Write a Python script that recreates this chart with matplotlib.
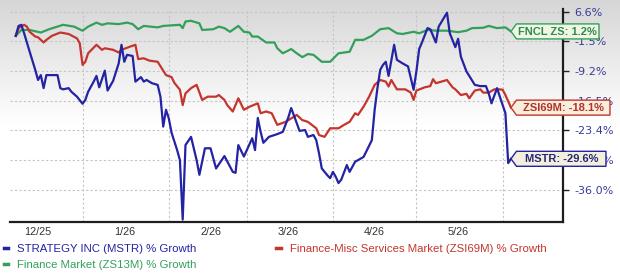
import numpy as np
import matplotlib.pyplot as plt
import matplotlib.dates as mdates
import matplotlib.transforms as mtransforms
from matplotlib.patches import Polygon

# days counted from 2025-12-01, values in % growth
start = np.datetime64('2025-12-01')

mstr_day = [7, 8, 9, 10, 12, 14, 15, 16, 17, 18, 20, 22, 23, 24, 26, 27, 29, 31, 32, 33,
            35, 36, 37, 39, 40, 42, 44, 45, 46, 47, 49, 50, 52, 53, 54, 56, 58, 59, 60, 61,
            62, 63, 65, 66, 67, 68, 70, 72, 73, 75, 77, 79, 82, 85, 86, 87, 89, 92, 93, 94,
            95, 96, 98, 101, 103, 105, 106, 108, 109, 111, 112, 114, 115, 116, 117, 119, 120, 121, 122, 123,
            124, 126, 127, 129, 130, 132, 133, 135, 136, 137, 138, 139, 140, 141, 143, 144, 146, 148, 150, 151,
            152, 153, 155, 156, 158, 159, 162, 163, 165, 166, 167, 169, 170, 172, 174, 176, 177, 178, 180, 181,
            183, 184, 185]
mstr_pct = [0.0, 2.7, 3.0, 0.7, -4.2, -8.9, -11.4, -10.2, -13.4, -10.2, -10.2, -10.2, -13.4, -13.7, -13.4, -14.3, -15.5, -17.2, -16.3, -14.3,
            -11.8, -10.4, -13.2, -9.1, -14.0, -11.6, -7.2, -2.4, -6.8, -5.0, -5.3, -11.8, -10.7, -11.8, -11.4, -12.2, -12.6, -15.5, -22.5, -18.6,
            -20.6, -23.9, -27.7, -29.9, -41.7, -26.6, -24.8, -29.9, -32.9, -27.3, -27.3, -31.6, -29.0, -32.3, -32.5, -26.6, -29.1, -25.1, -27.7, -20.5,
            -23.7, -26.1, -24.8, -24.2, -23.7, -20.3, -18.2, -21.7, -23.5, -23.3, -24.8, -24.4, -25.5, -28.4, -31.6, -33.0, -33.6, -32.3, -33.3, -34.6,
            -33.9, -30.9, -32.3, -30.2, -29.9, -29.2, -28.0, -25.5, -18.6, -13.4, -8.9, -7.6, -6.8, -10.4, -2.4, -6.3, -7.2, -8.0, -13.8, -9.3,
            -3.5, -1.8, 2.1, 1.8, -1.8, 2.5, 6.3, 0.7, -3.0, -0.8, -5.5, -9.3, -10.4, -12.6, -12.9, -12.9, -14.7, -17.1, -13.4, -15.5,
            -19.4, -30.5, -29.6]

zsi_day = [7, 8, 10, 11, 12, 14, 15, 17, 18, 20, 23, 26, 29, 30, 31, 32, 33, 36, 38, 39,
           42, 44, 45, 48, 50, 51, 53, 55, 58, 61, 63, 64, 66, 67, 68, 70, 72, 74, 76, 79,
           80, 82, 83, 85, 87, 89, 91, 94, 95, 97, 99, 101, 104, 108, 110, 112, 115, 116, 118, 120,
           123, 125, 127, 129, 130, 132, 134, 136, 138, 140, 141, 142, 144, 147, 149, 150, 151, 154, 156, 157,
           158, 160, 162, 164, 165, 167, 169, 170, 172, 174, 175, 177, 179, 181, 182, 183, 185]
zsi_pct = [0.0, 2.1, 3.0, 2.5, 1.1, -0.2, -0.4, -1.8, -1.1, 0.0, 0.9, 0.5, -0.7, -2.0, -7.6, -6.8, -4.6, -2.4, -3.7, -3.3,
           -3.7, -4.4, -3.7, -2.9, -2.4, -6.1, -5.9, -6.5, -6.8, -10.2, -10.7, -12.1, -13.8, -17.5, -14.7, -13.4, -12.6, -16.3, -15.5, -15.5,
           -15.1, -16.3, -17.5, -19.0, -15.9, -18.6, -17.9, -17.1, -19.4, -19.0, -19.4, -22.1, -21.4, -19.8, -21.0, -21.4, -22.9, -24.4, -24.8, -22.9,
           -22.9, -22.1, -21.4, -19.4, -19.8, -17.9, -15.5, -12.6, -11.4, -11.8, -13.0, -11.4, -13.7, -13.7, -14.5, -16.3, -14.0, -13.2, -12.9, -11.2,
           -12.2, -11.8, -11.4, -13.2, -13.7, -15.1, -14.8, -15.9, -14.0, -13.7, -14.5, -14.5, -13.7, -13.7, -13.8, -15.1, -18.1]

fncl_day = [7, 9, 12, 16, 19, 24, 28, 31, 33, 36, 38, 40, 44, 47, 49, 51, 53, 58, 60, 66,
            67, 68, 70, 73, 74, 78, 80, 82, 84, 87, 89, 91, 92, 94, 97, 100, 101, 103, 106, 108,
            110, 112, 114, 117, 120, 123, 127, 129, 132, 135, 138, 141, 144, 146, 150, 152, 155, 158, 162, 166,
            169, 171, 175, 177, 180, 183, 185]
fncl_pct = [0.0, 1.6, 1.6, 0.9, 1.8, 3.0, 2.5, 1.4, 2.5, 3.6, 3.0, 3.4, 3.2, 3.6, 3.2, 1.8, 2.7, 2.3, 2.7, 3.0,
            2.1, 3.9, 4.1, 3.4, 1.6, 1.8, 2.5, 2.1, 1.1, 2.7, 1.1, 0.9, -0.2, -0.2, -1.8, -1.8, -3.3, -4.6, -3.5, -4.6,
            -5.6, -4.8, -5.0, -6.8, -6.8, -4.6, -4.2, -1.1, -1.1, 0.0, 1.8, 2.1, 0.7, 0.5, 1.1, 0.7, 1.6, 1.4, 1.4, 1.0,
            1.4, 2.1, 2.2, 2.7, 2.1, 2.3, 1.2]

ytick_vals = [6.6, -1.5, -9.2, -16.5, -23.4, -29.9, -36.0]
month_labels = ['12/25', '1/26', '2/26', '3/26', '4/26', '5/26']

# chart's y axis is not linear: tick values are evenly spaced
scale_vals = [-47.3, -41.7, -36.0, -29.9, -23.4, -16.5, -9.2, -1.5, 6.6, 15.1]
scale_pos = np.arange(-1, 9, dtype=float)

def fwd(v):
    return np.interp(v, scale_vals, scale_pos)

def inv(p):
    return np.interp(p, scale_pos, scale_vals)

def to_dates(days):
    return start + np.array(days).astype('timedelta64[D]')

blue = '#2323a3'
red = '#c3352e'
green = '#33a05a'

fig = plt.figure(figsize=(6.2, 2.75), dpi=100)

# grey-to-white background
bg = fig.add_axes([0, 0, 1, 1], zorder=-10)
t = np.clip(np.linspace(0, 1, 275) / 0.45, 0, 1)
col = 0.84 + 0.16 * t
bg.imshow(np.dstack([col, col, col]).reshape(275, 1, 3), aspect='auto',
          extent=[0, 1, 0, 1])
bg.axis('off')

ax = fig.add_axes([0.0161, 0.1938, 0.892, 0.7735])
ax.set_facecolor('none')
ax.set_yscale('function', functions=(fwd, inv))

ax.plot(to_dates(fncl_day), fncl_pct, color=green, lw=1.6, label='Finance Market (ZS13M) % Growth', zorder=3)
ax.plot(to_dates(zsi_day), zsi_pct, color=red, lw=1.6, label='Finance-Misc Services Market (ZSI69M) % Growth', zorder=3)
ax.plot(to_dates(mstr_day), mstr_pct, color=blue, lw=1.6, label='STRATEGY INC (MSTR) % Growth', zorder=4)

ax.set_xlim(start + np.timedelta64(4, 'D') + np.timedelta64(22, 'h'), start + np.timedelta64(203, 'D') + np.timedelta64(17, 'h'))
ax.set_ylim(-42.1, 7.35)

ax.yaxis.tick_right()
ax.set_yticks(ytick_vals)
ax.set_yticklabels(['%.1f%%' % v for v in ytick_vals])
ax.yaxis.set_minor_locator(plt.NullLocator())
ax.tick_params(axis='y', which='major', length=4, width=1, color='#222222', pad=4,
               labelsize=8, labelcolor='#3b3b96')

month_starts = [np.datetime64('2026-%02d-01' % m) for m in range(1, 7)]
mid_months = [np.datetime64('2025-12-16')] + [np.datetime64('2026-%02d-16' % m) for m in range(1, 6)]
ax.set_xticks(month_starts)
ax.set_xticklabels([])
ax.set_xticks(mid_months, minor=True)
ax.set_xticklabels(month_labels, minor=True)
ax.tick_params(axis='x', which='both', length=0, pad=4)
ax.tick_params(axis='x', which='minor', labelsize=7.8, labelcolor='#333333')
for lab in ax.get_xticklabels(minor=True):
    lab.set_family('Liberation Sans')

ax.grid(True, which='major', color='#c4c4c4', lw=0.8, ls=(0, (2, 2)))

for s in ['left', 'top']:
    ax.spines[s].set_visible(False)
for s in ['bottom', 'right']:
    ax.spines[s].set_linewidth(1.6)
    ax.spines[s].set_color('#1e1e1e')

# legend below the plot
h, l = ax.get_legend_handles_labels()
order = [2, 0, 1]
leg = fig.legend([h[i] for i in order], [l[i] for i in order], ncol=2,
                 loc='upper left', bbox_to_anchor=(0.006, 0.112), frameon=False,
                 handlelength=0.4, handletextpad=0.8, labelspacing=0.52,
                 columnspacing=7.0, borderaxespad=0, borderpad=0,
                 prop={'family': 'Liberation Sans', 'size': 8.2}, labelcolor='linecolor')
for ln in leg.get_lines():
    ln.set_linewidth(2.5)

# value tags at the end of each line
def tag(day, val, text, w, edge, face, tcol):
    x = mdates.date2num(start + np.timedelta64(day, 'D'))
    tr = fig.dpi_scale_trans + mtransforms.ScaledTranslation(x, val, ax.transData)
    hh = 0.075
    pts = [(0, 0), (0.055, hh), (w, hh), (w, -hh), (0.055, -hh)]
    ax.add_patch(Polygon(pts, closed=True, transform=tr, facecolor=face,
                         edgecolor=edge, lw=1.0, clip_on=False, zorder=10))
    ax.text((0.055 + w) / 2, -0.004, text, transform=tr, ha='center', va='center',
            fontsize=8, fontweight='bold', family='Liberation Sans', color=tcol,
            clip_on=False, zorder=11)

tag(fncl_day[-1], fncl_pct[-1], 'FNCL ZS: %.1f%%' % fncl_pct[-1], 0.88, green, '#f0f6e4', '#2f8a4c')
tag(zsi_day[-1], zsi_pct[-1], 'ZSI69M: %.1f%%' % zsi_pct[-1], 0.99, red, '#f8eedb', '#b3302b')
tag(mstr_day[-1], mstr_pct[-1], 'MSTR: %.1f%%' % mstr_pct[-1], 0.95, blue, '#f2f0dc', '#27277a')

fig.savefig('out.png', dpi=100)
